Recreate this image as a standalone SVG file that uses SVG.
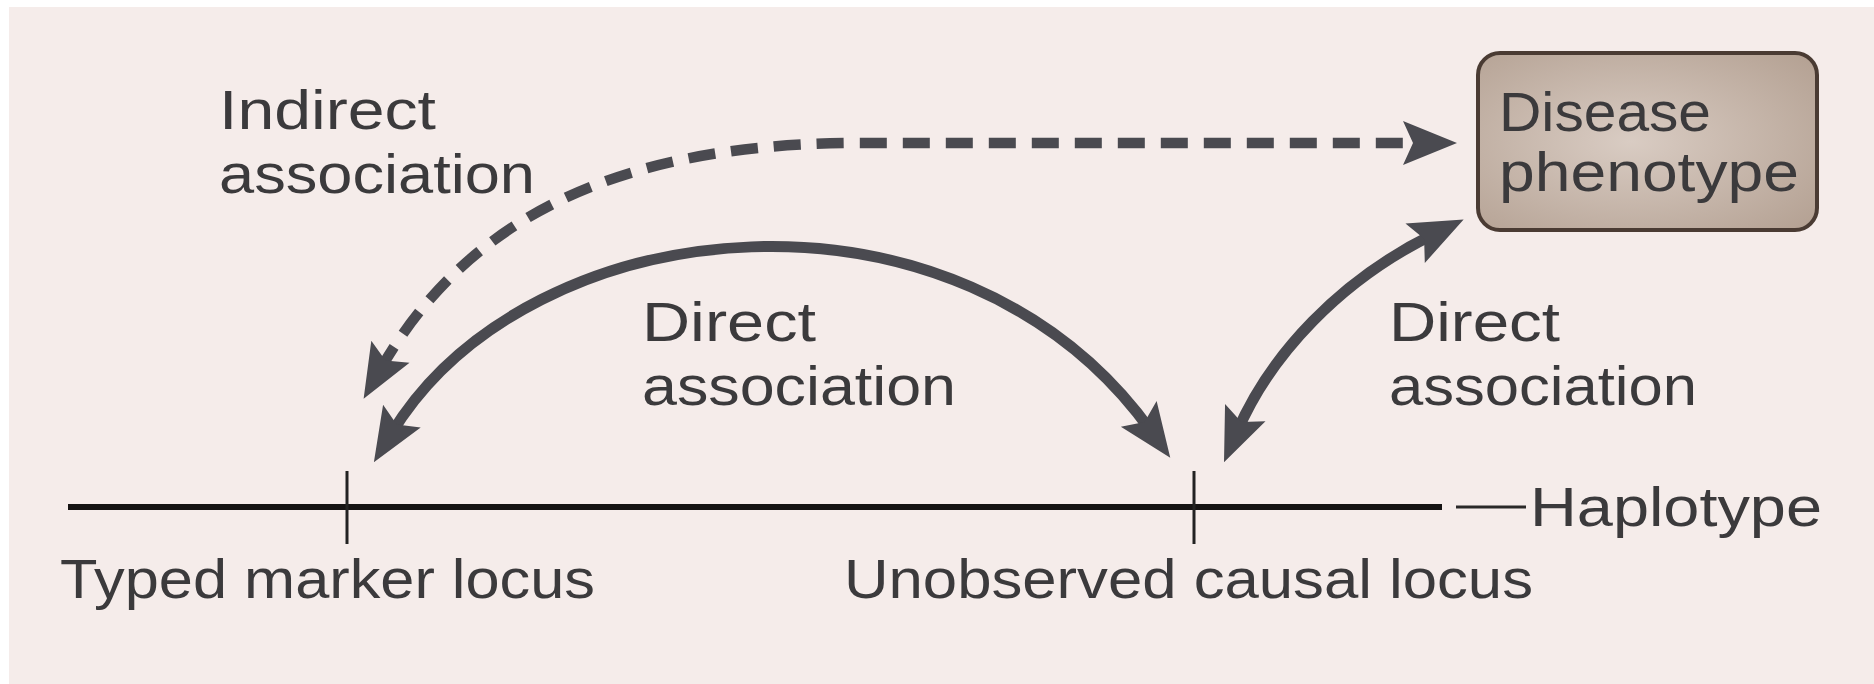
<svg xmlns="http://www.w3.org/2000/svg" width="1874" height="684" viewBox="0 0 1874 684">
<defs>
<style>
.lbl{font-family:"Liberation Sans","Noto Sans",sans-serif;font-size:56px;fill:#3b3a3c}
.arr{fill:none;stroke:#4a4a50;stroke-width:11}
.dash{stroke-dasharray:27 16;stroke-width:10.5}
</style>
<marker id="ah" markerUnits="userSpaceOnUse" viewBox="-24 -26 60 52" refX="0" refY="0" markerWidth="60" markerHeight="52" orient="auto-start-reverse">
<path d="M33 0 L-21 -22 L-11 0 L-21 22 Z" fill="#4a4a50"/>
</marker>
<radialGradient id="boxg" cx="0.45" cy="0.5" r="0.7">
<stop offset="0" stop-color="#d9ccc3"/>
<stop offset="1" stop-color="#b5a294"/>
</radialGradient>
</defs>
<rect x="0" y="0" width="1874" height="684" fill="#ffffff"/>
<rect x="9" y="7" width="1865" height="677" fill="#f5ecea"/>

<g id="connectors">
<path class="arr dash" d="M380 370 C460 230 600 145 850 143 L1424 143" marker-start="url(#ah)" marker-end="url(#ah)"/>
<path class="arr" d="M391 434 C530 205 960 165 1151 431" marker-start="url(#ah)" marker-end="url(#ah)"/>
<path class="arr" d="M1237 432 C1270 355 1340 280 1434 234" marker-start="url(#ah)" marker-end="url(#ah)"/>
</g>

<g id="haplotype">
<line x1="68" y1="507" x2="1442" y2="507" stroke="#151313" stroke-width="6"/>
<line x1="1456" y1="507" x2="1526" y2="507" stroke="#2a2828" stroke-width="3"/>
<text class="lbl" x="1530" y="526" textLength="292" lengthAdjust="spacingAndGlyphs">Haplotype</text>
</g>

<g id="typed-marker">
<line x1="347" y1="471" x2="347" y2="544" stroke="#222" stroke-width="3"/>
<text class="lbl" x="60" y="598" textLength="535" lengthAdjust="spacingAndGlyphs">Typed marker locus</text>
</g>

<g id="causal-locus">
<line x1="1194" y1="471" x2="1194" y2="544" stroke="#222" stroke-width="3"/>
<text class="lbl" x="844" y="598" textLength="689" lengthAdjust="spacingAndGlyphs">Unobserved causal locus</text>
</g>

<g id="disease-phenotype">
<rect x="1478" y="53" width="339" height="177" rx="22" fill="url(#boxg)" stroke="#4a3b33" stroke-width="4"/>
<text class="lbl" x="1499" y="131" textLength="212" lengthAdjust="spacingAndGlyphs">Disease</text>
<text class="lbl" x="1499" y="191" textLength="300" lengthAdjust="spacingAndGlyphs">phenotype</text>
</g>

<g id="label-indirect">
<text class="lbl" x="219" y="129" textLength="217" lengthAdjust="spacingAndGlyphs">Indirect</text>
<text class="lbl" x="219" y="193" textLength="316" lengthAdjust="spacingAndGlyphs">association</text>
</g>

<g id="label-direct-1">
<text class="lbl" x="642" y="341" textLength="174" lengthAdjust="spacingAndGlyphs">Direct</text>
<text class="lbl" x="642" y="405" textLength="314" lengthAdjust="spacingAndGlyphs">association</text>
</g>

<g id="label-direct-2">
<text class="lbl" x="1389" y="341" textLength="171" lengthAdjust="spacingAndGlyphs">Direct</text>
<text class="lbl" x="1389" y="405" textLength="308" lengthAdjust="spacingAndGlyphs">association</text>
</g>
</svg>
